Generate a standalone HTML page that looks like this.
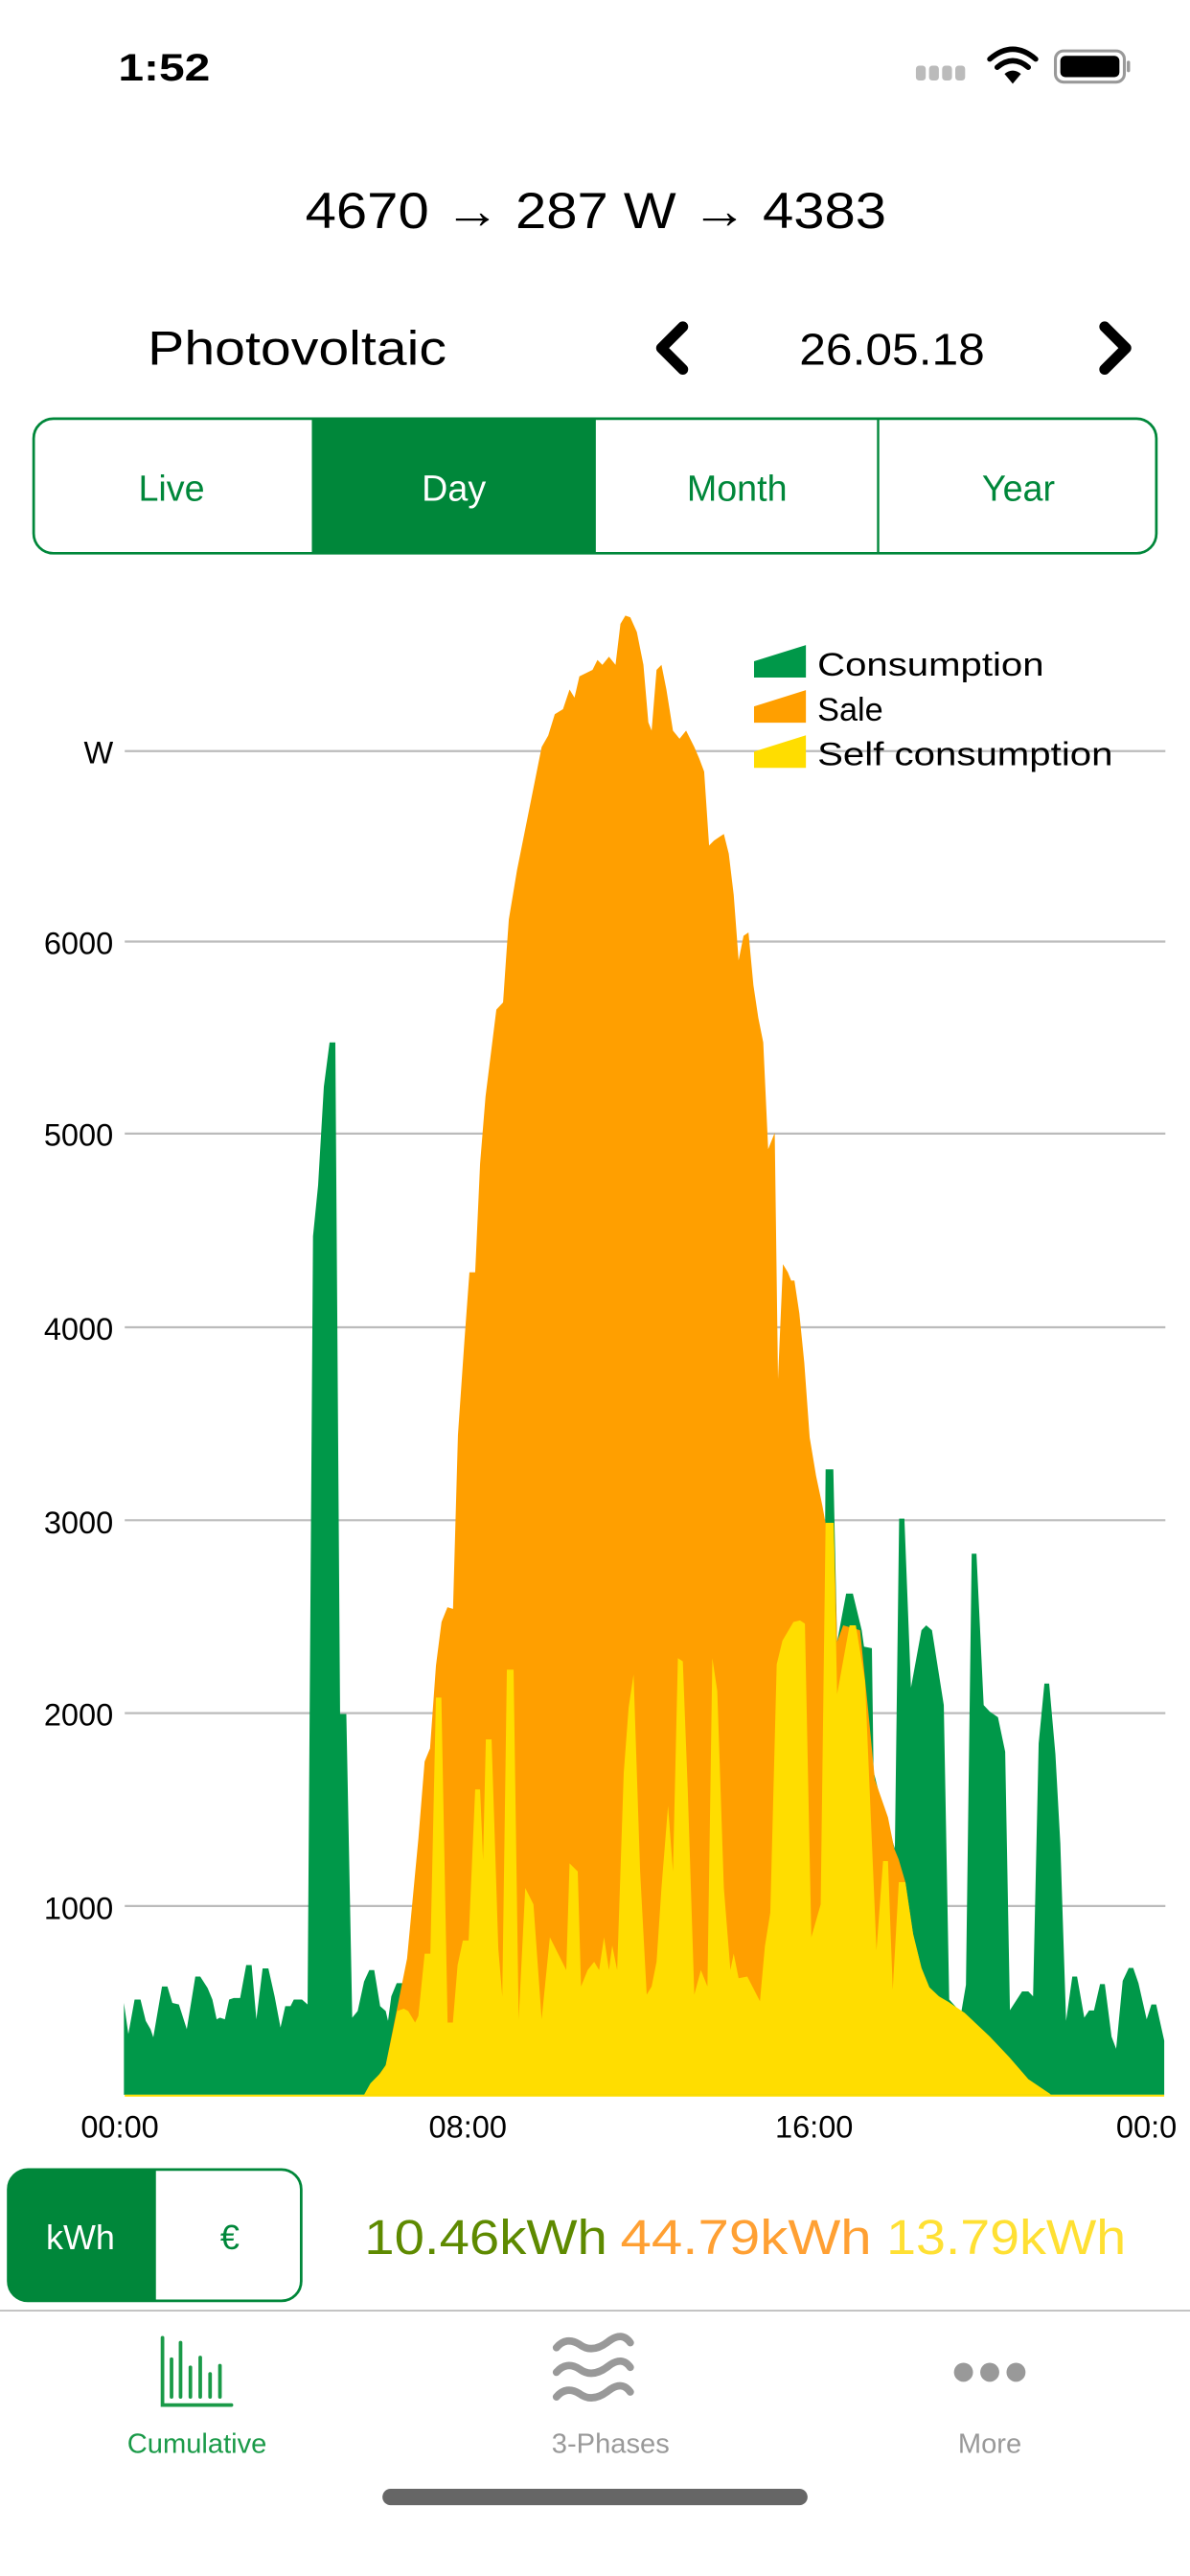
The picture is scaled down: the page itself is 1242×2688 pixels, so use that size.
<!DOCTYPE html>
<html><head><meta charset="utf-8"><style>
html,body{margin:0;padding:0;background:#fff;}
svg{display:block;}
text{font-family:"Liberation Sans",Arial,sans-serif;}
</style></head><body>
<svg width="1242" height="2688" viewBox="0 0 725 1569.1" preserveAspectRatio="none" xmlns="http://www.w3.org/2000/svg">
<rect width="725" height="1569.1" fill="#fff"/>
<!-- status bar -->
<text x="72" y="49" font-size="23" font-weight="bold" textLength="56" lengthAdjust="spacingAndGlyphs">1:52</text>
<g fill="#bbb"><rect x="558" y="40" width="6" height="9" rx="2"/><rect x="566" y="40" width="6" height="9" rx="2"/><rect x="574" y="40" width="6" height="9" rx="2"/><rect x="582" y="40" width="6" height="9" rx="2"/></g>
<g fill="none" stroke="#000" stroke-width="3.2" stroke-linecap="round">
<path d="M603 36 Q617 24 631 36"/><path d="M607.5 41 Q617 33 626.5 41"/></g>
<path d="M612 45 L617 51 L622 45 Q617 41 612 45Z" fill="#000"/>
<rect x="643" y="31" width="42" height="19" rx="5" fill="none" stroke="#999" stroke-width="1.8"/>
<rect x="646" y="34" width="36" height="13" rx="3" fill="#000"/>
<rect x="686.5" y="37" width="2" height="7" rx="1" fill="#999"/>
<!-- header -->
<text x="186" y="139" font-size="31" textLength="354" lengthAdjust="spacingAndGlyphs">4670  → 287 W → 4383</text>
<text x="90" y="222" font-size="29" textLength="182" lengthAdjust="spacingAndGlyphs">Photovoltaic</text>
<text x="487" y="222" font-size="27" textLength="113" lengthAdjust="spacingAndGlyphs">26.05.18</text>
<path d="M416 199 L403 212 L416 225" fill="none" stroke="#000" stroke-width="6.5" stroke-linecap="round" stroke-linejoin="round"/>
<path d="M673 199 L686 212 L673 225" fill="none" stroke="#000" stroke-width="6.5" stroke-linecap="round" stroke-linejoin="round"/>
<!-- segmented -->
<rect x="190" y="255" width="173" height="82" fill="#00873A"/>
<rect x="20.5" y="255" width="684" height="82" rx="12" fill="none" stroke="#00873A" stroke-width="1.6"/>
<line x1="535" y1="255" x2="535" y2="337" stroke="#00873A" stroke-width="1.4"/>
<g font-size="22" text-anchor="middle" fill="#00873A">
<text x="104.5" y="305">Live</text>
<text x="276.5" y="305" fill="#fff">Day</text>
<text x="449" y="305">Month</text>
<text x="620.5" y="305">Year</text>
</g>
<!-- gridlines -->
<g stroke="#bbb" stroke-width="1.3">
<line x1="76" y1="457.5" x2="710" y2="457.5"/>
<line x1="76" y1="573.5" x2="710" y2="573.5"/>
<line x1="76" y1="690.5" x2="710" y2="690.5"/>
<line x1="76" y1="808.5" x2="710" y2="808.5"/>
<line x1="76" y1="926" x2="710" y2="926"/>
<line x1="76" y1="1043.5" x2="710" y2="1043.5"/>
<line x1="76" y1="1161" x2="710" y2="1161"/>
</g>
<g font-size="19" text-anchor="end">
<text x="69" y="465">W</text>
<text x="69" y="581">6000</text>
<text x="69" y="698">5000</text>
<text x="69" y="816">4000</text>
<text x="69" y="934">3000</text>
<text x="69" y="1051">2000</text>
<text x="69" y="1169">1000</text>
</g>
<!-- green -->
<polygon fill="#009849" points="75.5,1276 75.5,1220 78.2,1239 82,1218 85.6,1218 88.8,1231 91.7,1236 93.4,1241 98.7,1210 102,1210 105,1220 109,1221 113.8,1236 119,1204 122,1204 126.5,1211 129.4,1218 132,1230 134,1229 137,1230 139.6,1218 142.4,1217 146.3,1217 150,1197 153.3,1197 156.2,1230 160,1199 163.5,1199 167.3,1216 170.9,1235 173.8,1222 177,1222 179,1218 184,1218 187.4,1221 190.7,753 193.8,722 197.3,662 200.8,635 204.3,635 207.2,1044 211,1044 214.6,1229 217.9,1225 221.8,1207 225,1200 228,1200 231.6,1222 235,1225 236.4,1231 238.4,1216 241.7,1208 245,1208 250,1225 500,1230 503,895 507.7,895 510,1000 515.5,970.7 519.6,970.7 525,993 526.4,1003 531.2,1004 532.2,1079 540,1110 545.2,1126 547.8,925 551,925 555,1028 561.4,993 564.3,990 567.8,993 575,1038.6 578.3,1218 585.6,1226 588.5,1209 592,946.4 594.9,946.4 599.3,1038.6 603,1042.6 608,1046 612.4,1067 615.3,1224.5 622.7,1213 626.5,1213 629.4,1216 632.8,1062 636.3,1025.5 639.2,1025.5 643,1068.5 646,1123 649.5,1231 653.3,1204 656.2,1204 660.6,1229 663.5,1224.6 666.5,1224.6 670.2,1208.6 673.1,1208.6 677.2,1240.5 680,1248 684,1206.6 687.7,1198.7 690.4,1198.7 693.6,1208 698.6,1230 701.5,1221 704.4,1221 709.3,1243 709.3,1276"/>
<!-- orange -->
<polygon fill="#FF9F00" points="222,1276 235,1258 243,1218 248,1193 254.9,1120 258.7,1073 262,1065 265.6,1014.6 269,988 272.6,979 276,980 279,874 283,816 286,775 289.5,775 292.5,708.7 295.8,668 302.4,615 306.5,610.6 308.3,584 310,560 315,530 320,505 326,475 330,455 334,448 338,435 343,432 347,420 350,425 353,412 357,410 361,408 364,402 367,405 371,400 375,405 378,380 381,375 384,376 388,385 392,405 395,440 397,445 400,408 403,405 406,420 410,445 414,450 418,445 423,455 426,462 429,470 432,515 435,512 438,510 441,508 444,520 447,545 450,585 453,570 456,568 459,600 462,620 465,635 468,700 472,690 474,840 477,770 480,775 482,780 484,780 487,800 490,830 493.3,875.6 497.2,899 501,917 503,928 507.9,927.6 510,1000 513.7,990 524,993 529,1042.6 533,1084 541,1107 544.8,1126 547.5,1132.5 551.6,1146.5 556.3,1178 561.4,1198.7 566.2,1210.5 572,1216 579.9,1222.5 581.8,1231 587.6,1226 603,1240.5 614.8,1253 626.5,1266.5 640,1275.6"/>
<!-- yellow -->
<polygon fill="#FFDD00" points="221.8,1276 225.7,1269 231.6,1263 235,1258 242,1225 246,1223.5 248.7,1225 252.9,1232 254.9,1228 258.7,1190 262.2,1190 265.6,1034 268.9,1034 272.7,1232 275.9,1232 278.8,1197 282,1182 285.5,1182 289.5,1090 292.5,1090 294.3,1133 296,1059.5 299.5,1059.5 303.6,1187 306,1216 308.8,1017 312.9,1017 316,1230 320,1150 325,1160 330,1230 335,1180 340,1190 345,1200 347,1135 352,1140 354,1210 358,1200 362,1195 365,1200 368,1180 371,1200 373,1185 376,1200 380,1080 383,1040 386,1020 390,1140 394,1215 397,1210 400,1195 403,1150 407,1100 410,1140 413,1010 416,1012 419,1090 423,1215 427,1200 431,1210 434,1010 437,1030 441,1150 445,1200 447,1190 450,1205 455.3,1204 463,1219 466,1185.6 469.3,1165 473.2,1013.8 476.7,999.4 483.4,988 487.4,987 490.4,989 494.3,1180 500,1160 503,927.6 507.9,927.6 510,1032 517.6,990 521.4,990 527,1024 534,1188 538,1133.6 541,1133.6 543.9,1212 547.6,1146.5 551.6,1146.5 556.3,1178 561.4,1198.7 566.2,1210.5 572,1216 578,1219.5 587.6,1226 603,1240.5 614.8,1253 626.5,1266.5 640,1275.6 640,1276"/>
<line x1="76" y1="1276.5" x2="709.3" y2="1276.5" stroke="#FFDD00" stroke-width="1.2"/>
<!-- legend -->
<polygon points="459.4,402.8 491,392.9 491,412.7 459.4,412.7" fill="#009849"/>
<polygon points="459.4,430.3 491,420.4 491,440.2 459.4,440.2" fill="#FF9F00"/>
<polygon points="459.4,457.8 491,447.9 491,467.7 459.4,467.7" fill="#FFDD00"/>
<g font-size="20">
<text x="498" y="411.5" textLength="138" lengthAdjust="spacingAndGlyphs">Consumption</text>
<text x="498" y="439">Sale</text>
<text x="498" y="466" textLength="180" lengthAdjust="spacingAndGlyphs">Self consumption</text>
</g>
<!-- x labels -->
<g font-size="19" text-anchor="middle">
<text x="73" y="1302">00:00</text>
<text x="285" y="1302">08:00</text>
<text x="496" y="1302">16:00</text>
</g>
<text x="680" y="1302" font-size="19">00:0</text>
<!-- toggle -->
<path d="M17 1321.5 H95 V1401.5 H17 Q5 1401.5 5 1389.5 V1333.5 Q5 1321.5 17 1321.5Z" fill="#00873A"/>
<rect x="5" y="1321.5" width="178.5" height="80" rx="12" fill="none" stroke="#00873A" stroke-width="1.6"/>
<text x="49" y="1370" font-size="21" fill="#fff" text-anchor="middle">kWh</text>
<text x="140" y="1370" font-size="21" fill="#00873A" text-anchor="middle">€</text>
<g font-size="30">
<text x="222" y="1373" fill="#5E8A00" textLength="148" lengthAdjust="spacingAndGlyphs">10.46kWh</text>
<text x="378" y="1373" fill="#FFA033" textLength="153" lengthAdjust="spacingAndGlyphs">44.79kWh</text>
<text x="540" y="1373" fill="#FFE033" textLength="146" lengthAdjust="spacingAndGlyphs">13.79kWh</text>
</g>
<line x1="0" y1="1407.5" x2="725" y2="1407.5" stroke="#bbb" stroke-width="1"/>
<!-- tab bar -->
<g stroke="#1A9A48" stroke-width="2.2" stroke-linecap="round" fill="none">
<path d="M99 1424 V1465 H141"/>
<line x1="104.5" y1="1437" x2="104.5" y2="1460"/>
<line x1="110" y1="1427" x2="110" y2="1460"/>
<line x1="116" y1="1442" x2="116" y2="1460"/>
<line x1="122" y1="1436" x2="122" y2="1460"/>
<line x1="128" y1="1446" x2="128" y2="1460"/>
<line x1="134" y1="1441" x2="134" y2="1460"/>
</g>
<g stroke="#999" stroke-width="4.5" stroke-linecap="round" fill="none">
<path d="M340 1430 Q346 1423 354 1428 Q362 1434 372 1426 Q380 1420 385 1427" transform="translate(-1,0)"/>
<path d="M340 1445 Q346 1438 354 1443 Q362 1449 372 1441 Q380 1435 385 1442" transform="translate(-1,0)"/>
<path d="M340 1460 Q346 1453 354 1458 Q362 1464 372 1456 Q380 1450 385 1457" transform="translate(-1,0)"/>
</g>
<g fill="#999"><circle cx="587" cy="1445" r="5.8"/><circle cx="603" cy="1445" r="5.8"/><circle cx="619" cy="1445" r="5.8"/></g>
<g font-size="17" text-anchor="middle">
<text x="120" y="1494" fill="#1A9A48">Cumulative</text>
<text x="372" y="1494" fill="#999">3-Phases</text>
<text x="603" y="1494" fill="#999">More</text>
</g>
<rect x="233" y="1516" width="259" height="10" rx="5" fill="#666"/>
</svg>
</body></html>
